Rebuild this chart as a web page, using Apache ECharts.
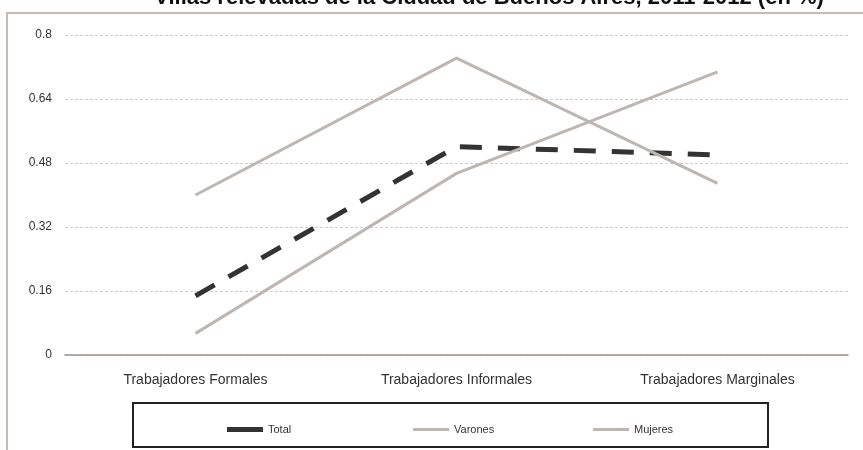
<!DOCTYPE html>
<html>
<head>
<meta charset="utf-8">
<script src="https://cdn.jsdelivr.net/npm/echarts@6/dist/echarts.min.js"></script>
<style>
  html, body { margin: 0; padding: 0; background: #fff; }
  #chart { width: 863px; height: 450px; }
</style>
</head>
<body>
<div id="chart"></div>
<script>
  // categorias
  const categorias = ['Trabajadores Formales', 'Trabajadores Informales', 'Trabajadores Marginales']
  // series
  const total = [0.148, 0.521, 0.50]
  const varones = [0.40, 0.742, 0.429]
  const mujeres = [0.054, 0.454, 0.708]
  // eje y
  const yTicks = [0, 0.16, 0.32, 0.48, 0.64, 0.8]

  const titulo = 'Villas relevadas de la Ciudad de Buenos Aires, 2011-2012 (en %)'
  const gris = '#bdb6b2'

  const chart = echarts.init(document.getElementById('chart'))

  const legendBase = {
    top: 419,
    itemWidth: 36,
    itemGap: 10,
    icon: 'rect',
    textStyle: { fontFamily: 'Liberation Sans', fontSize: 11, color: '#333' }
  }

  const option = {
    animation: false,
    backgroundColor: '#fff',
    graphic: [
      // marco del grafico
      {
        type: 'polyline',
        shape: { points: [[7, 450], [7, 13], [863, 13]] },
        style: { stroke: '#c8bcb4', lineWidth: 2, fill: null },
        silent: true
      },
      // titulo, cortado arriba como en la imagen
      {
        type: 'text',
        x: 489,
        y: 9,
        style: {
          text: titulo,
          align: 'center',
          verticalAlign: 'bottom',
          font: 'bold 22px "Liberation Sans", Arial, sans-serif',
          fill: '#111'
        }
      },
      // caja de la leyenda
      {
        type: 'rect',
        shape: { x: 133, y: 403, width: 635, height: 44 },
        style: { stroke: '#222', lineWidth: 2, fill: null },
        z: 10
      }
    ],
    legend: [
      Object.assign({}, legendBase, { left: 222, data: [{ name: 'Total', itemStyle: { color: '#333' } }], itemHeight: 5 }),
      Object.assign({}, legendBase, { left: 408, data: [{ name: 'Varones', itemStyle: { color: gris } }], itemHeight: 3, itemGap: 2 }),
      Object.assign({}, legendBase, { left: 588, data: [{ name: 'Mujeres', itemStyle: { color: gris } }], itemHeight: 3, itemGap: 2 })
    ],
    grid: { left: 65, right: 15, top: 35, bottom: 95 },
    xAxis: {
      type: 'category',
      data: categorias,
      boundaryGap: true,
      axisLine: { lineStyle: { color: '#9a948f', width: 1.5 } },
      axisTick: { show: false },
      axisLabel: { fontFamily: 'Liberation Sans', fontSize: 14, color: '#333', margin: 18 }
    },
    yAxis: {
      type: 'value',
      min: 0,
      max: 0.8,
      interval: 0.16,
      axisLine: { show: false },
      axisTick: { show: false },
      axisLabel: {
        fontFamily: 'Liberation Sans',
        fontSize: 12,
        color: '#333',
        margin: 13,
        formatter: v => {
          const t = yTicks.find(x => Math.abs(x - v) < 1e-6)
          return t === undefined ? '' : String(t)
        }
      },
      splitLine: { lineStyle: { color: '#d8c9c2', type: [3, 2], width: 1 } }
    },
    series: [
      {
        name: 'Total',
        type: 'line',
        data: total,
        symbol: 'none',
        z: 3,
        lineStyle: { color: '#333', width: 5, type: [22, 16] },
        itemStyle: { color: '#333' }
      },
      {
        name: 'Varones',
        type: 'line',
        data: varones,
        symbol: 'none',
        lineStyle: { color: gris, width: 3 },
        itemStyle: { color: gris }
      },
      {
        name: 'Mujeres',
        type: 'line',
        data: mujeres,
        symbol: 'none',
        lineStyle: { color: gris, width: 3 },
        itemStyle: { color: gris }
      }
    ]
  }

  chart.setOption(option)
</script>
</body>
</html>
